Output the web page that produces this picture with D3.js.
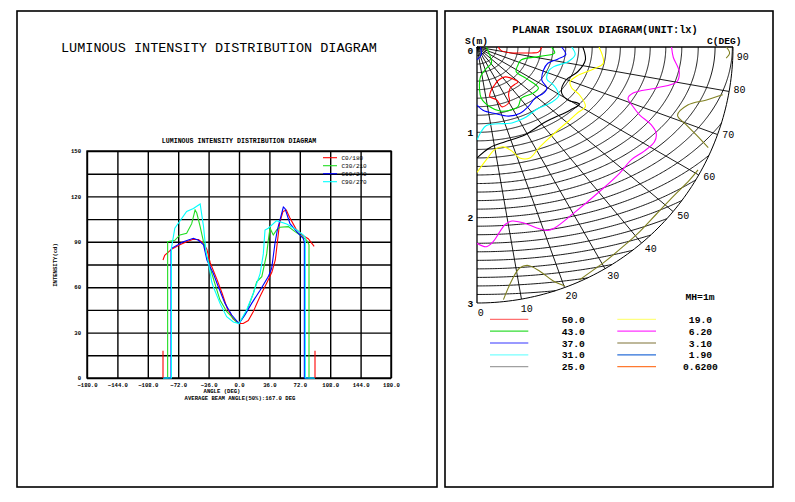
<!DOCTYPE html>
<html><head><meta charset="utf-8">
<script src="https://cdn.jsdelivr.net/npm/d3@7/dist/d3.min.js"></script>
<style>body{margin:0;background:#fff}svg{display:block}text{font-family:"Liberation Mono","DejaVu Sans Mono",monospace}</style>
</head><body><svg id="c" width="795" height="502"></svg>
<script>
// ---------- LEFT CHART DATA ----------
const angleTicks = [-180,-144,-108,-72,-36,0,36,72,108,144,180];
const intensityTicks = [0,30,60,90,120,150];
const seriesNames = ["C0/180","C30/210","C60/240","C90/270"];
const seriesColors = ["#ff0000","#22dd22","#0000ff","#00ffff"];
const c0_180 = [[-90,78],[-88,81],[-80,85],[-70,88],[-62,90],[-55,91.5],[-48,91.5],[-42,89],[-38,85],[-34,76],[-26,65],[-20,56],[-14,46],[-7,39],[0,36],[5,36],[11,38],[17,44],[25,54],[33,63],[39,70],[43,78],[48,102],[52,110],[56,111],[60,106],[64,102],[68,98],[76,94],[82,92],[89,87]];
const c0_180Left = [[-90,0],[-90,18]];
const c0_180Right = [[90,0],[90,18]];
const c30_210 = [[-90,0],[-84.5,0],[-84.5,90],[-76,91],[-70,94.5],[-62,95.6],[-56,102],[-52,111],[-50,109],[-46,100],[-42,90],[-38,80],[-30,65],[-22.5,51.5],[-14.6,44],[-2.7,37],[0,36],[9,44],[17,56],[21,63.6],[27,67],[32.8,82],[34.7,91],[36.7,99],[40.6,94.5],[44.6,97.8],[48.5,99.6],[58.4,100],[66.3,96.7],[72.2,94.5],[80.2,91],[82.9,88],[82.9,0],[90,0]];
const c60_240 = [[-90,0],[-80.5,0],[-80.5,85],[-79.8,85.7],[-66,90],[-54,92.3],[-48,91],[-42,88],[-38,78],[-30.4,69],[-24.5,60.3],[-16.6,49.3],[-8.6,41.6],[0,36],[7,41.6],[15,49.3],[25,58],[34.7,67],[38.7,72.5],[42.6,89],[45.4,97.8],[52.5,113],[54.5,112],[60.4,102],[68.3,96.7],[76,92.3],[77.4,90],[77.4,0],[90,0]];
const c90_270 = [[-90,0],[-80,0],[-80,86],[-76,99],[-62,110],[-54,112],[-46,115],[-42,100],[-39,83],[-36,75.8],[-32.3,63.6],[-30.4,60.3],[-22.5,49.3],[-14.6,40.5],[-6.7,37],[0,36],[9,45],[17,56],[25,69],[28.8,82],[30.8,97.8],[34.7,99],[44.6,104],[56.5,101.8],[68.3,97.8],[76,94.5],[78.5,93],[78.5,0],[90,0]];

// ---------- RIGHT CHART DATA (metres: x = towards C90, y = towards C0) ----------
const sTicks = [0,1,2,3];
const cTicks = [0,10,20,30,40,50,60,70,80,90];
const luxLabels = ["50.0","43.0","37.0","31.0","25.0","19.0","6.20","3.10","1.90","0.6200"];
const luxPlotColors = ["#ff0000","#00dd00","#0000ff","#00ffff","#000000","#ffff00","#ff00ff","#808020","#1e5fd0","#ff6a10"];
const luxLegendColors = ["#ff7070","#33dd33","#7777ff","#77ffff","#a0a0a0","#ffff80","#ff33ff","#a8a078","#2a6fd8","#ff7a30"];
const lux50Top = [[0.25,0],[0.28,0.04],[0.41,0.07],[0.50,0.07],[0.64,0.07],[0.72,0.06],[0.76,0]];
const lux50Loop = [[0.25,0.39],[0.33,0.35],[0.41,0.37],[0.48,0.41],[0.44,0.44],[0.39,0.48],[0.37,0.56],[0.38,0.64],[0.33,0.69],[0.29,0.70],[0.23,0.62],[0.15,0.58],[0.17,0.50],[0.21,0.44]];
const lux43 = [[0.11,0],[0.14,0.07],[0.17,0.19],[0.11,0.25],[0.04,0.35],[0.03,0.50],[0.05,0.60],[0.15,0.70],[0.27,0.75],[0.39,0.74],[0.48,0.70],[0.52,0.60],[0.66,0.54],[0.72,0.48],[0.58,0.37],[0.46,0.29],[0.48,0.21],[0.52,0.15],[0.74,0.11],[0.91,0.07],[0.87,0]];
const lux37 = [[0.99,0],[1.04,0.09],[0.95,0.14],[0.83,0.19],[0.78,0.27],[0.76,0.39],[0.82,0.48],[0.78,0.54],[0.68,0.60],[0.60,0.70],[0.50,0.78],[0.37,0.81],[0.21,0.78],[0.07,0.74],[0,0.68]];
const lux37Core = [[0,0.15],[0.05,0.09],[0.04,0]];
const lux31 = [[1.11,0],[1.15,0.09],[1.07,0.17],[0.90,0.23],[0.84,0.28],[0.82,0.38],[0.88,0.43],[0.93,0.49],[0.96,0.57],[0.87,0.65],[0.70,0.73],[0.56,0.83],[0.41,0.89],[0.25,0.90],[0.11,0.92],[0.05,0.99],[0,1.09]];
const lux25 = [[1.24,0],[1.27,0.15],[1.18,0.29],[1.04,0.39],[0.99,0.53],[1.06,0.62],[1.20,0.67],[1.09,0.74],[0.80,0.88],[0.56,1.03],[0.33,1.11],[0.15,1.18],[0,1.30]];
const lux19 = [[1.43,0],[1.48,0.19],[1.36,0.26],[1.17,0.34],[1.09,0.41],[1.11,0.48],[1.20,0.56],[1.27,0.70],[1.18,0.77],[1.07,0.87],[0.93,0.99],[0.80,1.11],[0.71,1.20],[0.62,1.30],[0.50,1.30],[0.41,1.22],[0.31,1.17],[0.21,1.20],[0.11,1.32],[0,1.47]];
const lux6_2 = [[2.28,0],[2.30,0.12],[2.37,0.29],[2.34,0.41],[2.10,0.48],[1.83,0.54],[1.77,0.60],[1.83,0.70],[1.91,0.80],[2.04,0.91],[2.10,1.01],[2.08,1.11],[1.96,1.22],[1.81,1.32],[1.67,1.48],[1.44,1.69],[1.13,1.95],[0.91,2.12],[0.82,2.15],[0.70,2.12],[0.54,2.06],[0.41,2.04],[0.33,2.08],[0.27,2.16],[0.19,2.28],[0.11,2.34],[0,2.30]];
const lux3_1a = [[2.92,0],[2.96,0.07],[2.92,0.13]];
const lux3_1b = [[2.88,0.56],[2.69,0.62],[2.47,0.68],[2.35,0.80],[2.45,0.91],[2.57,1.03],[2.71,1.18]];
const lux3_1c = [[2.59,1.44],[2.49,1.56],[2.30,1.75],[2.10,1.96],[1.91,2.16],[1.71,2.34],[1.48,2.53],[1.20,2.73]];
const lux3_1d = [[0.31,2.96],[0.41,2.73],[0.50,2.59],[0.60,2.56],[0.74,2.63],[0.89,2.74],[1.03,2.80]];

const svg = d3.select("#c");
// panels
svg.append("rect").attr("x",17).attr("y",11).attr("width",420).attr("height",476).attr("fill","none").attr("stroke","#000").attr("stroke-width",1.6);
svg.append("rect").attr("x",445).attr("y",11).attr("width",328).attr("height",476).attr("fill","none").attr("stroke","#000").attr("stroke-width",1.6);

// ---------- LEFT ----------
const x = d3.scaleLinear().domain([-180,180]).range([87,391]);
const y = d3.scaleLinear().domain([0,150]).range([378,151]);
svg.append("text").attr("x",219).attr("y",51.5).attr("text-anchor","middle").attr("font-size",13.5).attr("fill","#000").text("LUMINOUS INTENSITY DISTRIBUTION DIAGRAM");
svg.append("text").attr("x",239).attr("y",143).attr("text-anchor","middle").attr("font-size",6.6).attr("font-weight","bold").text("LUMINOUS INTENSITY DISTRIBUTION DIAGRAM");

const gridG = svg.append("g");
gridG.append("g").attr("transform","translate(0,378)")
  .call(d3.axisBottom(x).tickValues(angleTicks).tickSize(-(378-151)).tickFormat(""))
  .call(g=>{g.selectAll("line").attr("stroke","#000").attr("stroke-width",1.4);g.select(".domain").remove();});
gridG.append("g").attr("transform","translate(87,0)")
  .call(d3.axisLeft(y).tickValues(d3.range(0,151,15)).tickSize(-(391-87)).tickFormat(""))
  .call(g=>{g.selectAll("line").attr("stroke","#000").attr("stroke-width",1.4);g.select(".domain").remove();});
svg.append("rect").attr("x",87).attr("y",151).attr("width",304).attr("height",227).attr("fill","none").attr("stroke","#000").attr("stroke-width",1.4);

svg.append("g").attr("transform","translate(0,378)")
  .call(d3.axisBottom(x).tickValues(angleTicks).tickSize(0).tickPadding(5).tickFormat(d3.format(".1f")))
  .call(g=>{g.select(".domain").remove();g.selectAll("text").attr("font-family","Liberation Mono").attr("font-size",5.6).attr("font-weight","bold").attr("fill","#000");});
svg.append("g").attr("transform","translate(87,0)")
  .call(d3.axisLeft(y).tickValues(intensityTicks).tickSize(0).tickPadding(6).tickFormat(d3.format("d")))
  .call(g=>{g.select(".domain").remove();g.selectAll("text").attr("font-family","Liberation Mono").attr("font-size",5.6).attr("font-weight","bold").attr("fill","#000");});

svg.append("text").attr("x",222).attr("y",392.5).attr("text-anchor","middle").attr("font-size",5.6).attr("font-weight","bold").text("ANGLE (DEG)");
svg.append("text").attr("x",240).attr("y",399.5).attr("text-anchor","middle").attr("font-size",5.6).attr("font-weight","bold").text("AVERAGE BEAM ANGLE(50%):167.0 DEG");
svg.append("text").attr("transform","translate(57,265) rotate(-90)").attr("text-anchor","middle").attr("font-size",5.6).attr("font-weight","bold").text("INTENSITY(cd)");

const line = d3.line().x(d=>x(d[0])).y(d=>y(d[1]));
const seriesData = [c0_180,c30_210,c60_240,c90_270];
seriesData.forEach((s,i)=>{
  svg.append("path").attr("d",line(s)).attr("fill","none").attr("stroke",seriesColors[i]).attr("stroke-width",1.1);
});
[c0_180Left,c0_180Right].forEach(s=>svg.append("path").attr("d",line(s)).attr("fill","none").attr("stroke",seriesColors[0]).attr("stroke-width",1.1));

// legend
seriesNames.forEach((n,i)=>{
  const yy = 157.7 + i*8;
  svg.append("line").attr("x1",323).attr("x2",337).attr("y1",yy).attr("y2",yy).attr("stroke",seriesColors[i]).attr("stroke-width",1.1);
  svg.append("text").attr("x",341.5).attr("y",yy+2).attr("font-size",6).attr("fill","#000").text(n);
});

// ---------- RIGHT ----------
const ox = 477, oy = 47;
const r = d3.scaleLinear().domain([0,3]).range([0,256]);
const cAng = d3.scaleLinear().domain([0,90]).range([0,Math.PI/2]);
const P = (xm,ym)=>[ox + r(xm), oy + r(ym)];

svg.append("text").attr("x",605).attr("y",32.5).attr("text-anchor","middle").attr("font-size",10.3).attr("font-weight","bold").text("PLANAR ISOLUX DIAGRAM(UNIT:lx)");
svg.append("text").attr("x",465).attr("y",43.5).attr("font-size",9.6).attr("font-weight","bold").text("S(m)");
svg.append("text").attr("x",707).attr("y",43.5).attr("font-size",9.6).attr("font-weight","bold").text("C(DEG)");

const pg = svg.append("g");
// arcs (grid)
function arcPts(k){
  const b = k*0.1, a = b*(1.1+0.025*k);
  const pts=[];
  for(let i=0;i<=240;i++){
    const t=i/240*Math.PI/2;
    const px=a*Math.sin(t), py=b*Math.cos(t);
    if(px*px+py*py>9){
      let lo=(i-1)/240*Math.PI/2, hi=t;
      for(let j=0;j<30;j++){const m=(lo+hi)/2;const qx=a*Math.sin(m),qy=b*Math.cos(m);if(qx*qx+qy*qy>9)hi=m;else lo=m;}
      pts.push([a*Math.sin(lo),b*Math.cos(lo)]);
      break;
    }
    pts.push([px,py]);
  }
  return pts;
}
const gl = d3.line().x(d=>P(d[0],d[1])[0]).y(d=>P(d[0],d[1])[1]);
d3.range(1,30).forEach(k=>{
  pg.append("path").attr("d",gl(arcPts(k))).attr("fill","none").attr("stroke","#000").attr("stroke-width",0.9);
});
// outer circle
const outer = d3.range(0,91).map(c=>[3*Math.sin(cAng(c)),3*Math.cos(cAng(c))]);
pg.append("path").attr("d",gl(outer)).attr("fill","none").attr("stroke","#000").attr("stroke-width",1);
// spokes
cTicks.forEach(c=>{
  const e = P(3*Math.sin(cAng(c)),3*Math.cos(cAng(c)));
  pg.append("line").attr("x1",ox).attr("y1",oy).attr("x2",e[0]).attr("y2",e[1]).attr("stroke","#000").attr("stroke-width",c===0||c===90?1.3:0.9);
});

// contours
const clipId="qclip";
svg.append("clipPath").attr("id",clipId).append("path")
  .attr("d",`M${ox},${oy} L${ox},${oy+r(3.02)} A${r(3.02)},${r(3.02)} 0 0 0 ${ox+r(3.02)},${oy} Z`);
const cg = svg.append("g").attr("clip-path",`url(#${clipId})`);
const cl = d3.line().x(d=>P(d[0],d[1])[0]).y(d=>P(d[0],d[1])[1]).curve(d3.curveCatmullRom.alpha(0.5));
const clClosed = d3.line().x(d=>P(d[0],d[1])[0]).y(d=>P(d[0],d[1])[1]).curve(d3.curveCatmullRomClosed.alpha(0.5));
const contours = [
  [lux50Top,0,false],[lux50Loop,0,true],[lux43,1,false],[lux37,2,false],[lux37Core,2,false],
  [lux31,3,false],[lux25,4,false],[lux19,5,false],[lux6_2,6,false],
  [lux3_1a,7,false],[lux3_1b,7,false],[lux3_1c,7,false],[lux3_1d,7,false]
];
contours.forEach(([pts,li,closed])=>{
  cg.append("path").attr("d",(closed?clClosed:cl)(pts)).attr("fill","none").attr("stroke",luxPlotColors[li]).attr("stroke-width",1.1);
});

// S labels
sTicks.forEach(s=>{
  svg.append("text").attr("x",470.5).attr("y",oy+r(s)+(s===0?7:3.5)).attr("text-anchor","middle").attr("font-size",9.6).attr("font-weight","bold").text(s);
});
// C labels
cTicks.forEach(c=>{
  const a = cAng(Math.min(c+0.8,88));
  const p = [ox+266*Math.sin(a), oy+266*Math.cos(a)];
  svg.append("text").attr("x",p[0]).attr("y",p[1]+3.5).attr("text-anchor","middle").attr("font-size",10).text(c);
});
svg.append("text").attr("x",700).attr("y",299.5).attr("text-anchor","middle").attr("font-size",9.7).attr("font-weight","bold").text("MH=1m");

// lux legend
luxLabels.forEach((lab,i)=>{
  const col = Math.floor(i/5), row = i%5;
  const yy = 319.3 + row*11.85;
  const lx = col===0 ? 490 : 617.3, lw = col===0 ? 38.3 : 38.7;
  svg.append("line").attr("x1",lx).attr("x2",lx+lw).attr("y1",yy).attr("y2",yy).attr("stroke",luxLegendColors[i]).attr("stroke-width",1.3);
  svg.append("text").attr("x",col===0?573.3:700.5).attr("y",yy+3.5).attr("text-anchor","middle").attr("font-size",9.7).attr("font-weight","bold").text(lab);
});
</script></body></html>
